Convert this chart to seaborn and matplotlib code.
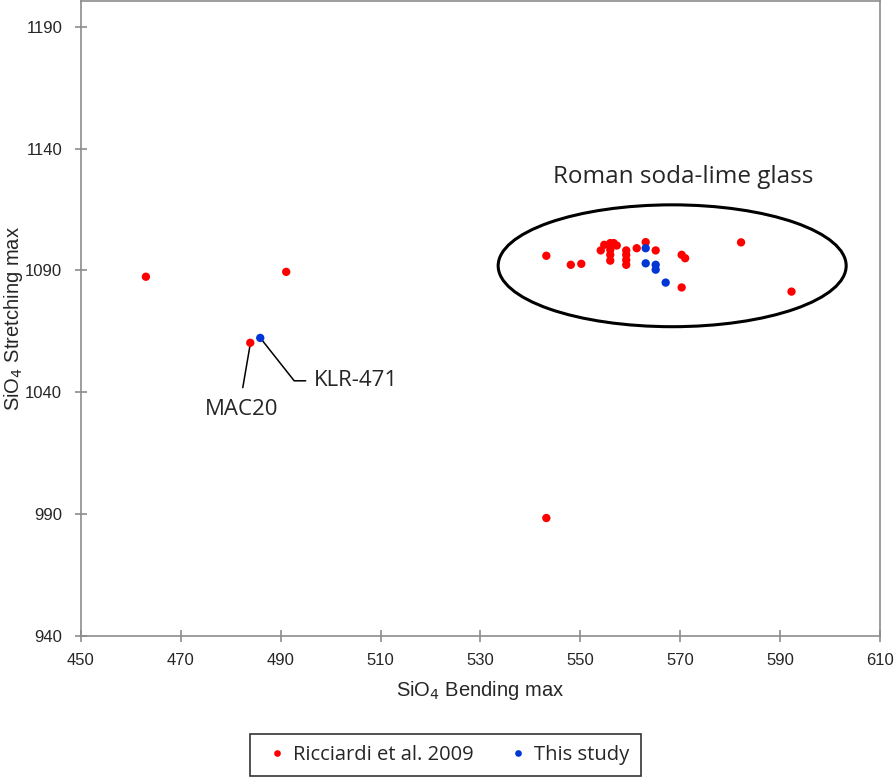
import pandas as pd
import matplotlib.pyplot as plt
import seaborn as sns
from matplotlib.patches import Ellipse

# data
ricc_x = [463.0, 491.1, 483.9, 543.2, 592.3, 582.2,
          543.2, 548.1, 550.2, 554.1, 554.8, 556.0, 556.7, 557.3,
          556.0, 556.0, 556.0, 559.2, 559.2, 559.2, 559.2,
          561.3, 563.1, 565.1, 570.3, 571.0, 570.3]
ricc_y = [1087.4, 1089.4, 1060.3, 988.4, 1081.3, 1101.5,
          1096.0, 1092.3, 1092.7, 1098.2, 1100.5, 1101.2, 1101.2, 1100.2,
          1098.5, 1096.4, 1094.0, 1098.2, 1096.4, 1094.3, 1092.3,
          1099.1, 1101.6, 1098.2, 1096.4, 1095.0, 1083.0]
study_x = [485.9, 563.1, 563.1, 565.1, 565.1, 567.1]
study_y = [1062.3, 1099.1, 1092.9, 1092.3, 1090.3, 1085.0]

series_names = ["Ricciardi et al. 2009", "This study"]
x_ticks = [450, 470, 490, 510, 530, 550, 570, 590, 610]
y_ticks = [940, 990, 1040, 1090, 1140, 1190]

df = pd.DataFrame({
    "bend": ricc_x + study_x,
    "stretch": ricc_y + study_y,
    "source": [series_names[0]] * len(ricc_x) + [series_names[1]] * len(study_x),
})

sns.set_style("white")
plt.rcParams["font.family"] = ["Liberation Sans", "DejaVu Sans"]

fig = plt.figure(figsize=(8.96, 7.79), dpi=100)
ax = fig.add_axes([0.0904, 0.1836, 0.8916, 0.815])

sns.scatterplot(data=df, x="bend", y="stretch", hue="source",
                palette={series_names[0]: "#ff0000", series_names[1]: "#0036d6"},
                s=36, edgecolor="none", ax=ax, legend=True, zorder=3)

ax.set_xlim(450, 610)
ax.set_ylim(940, 1200.5)
ax.set_xticks(x_ticks)
ax.set_yticks(y_ticks)
ax.tick_params(direction="inout", length=9, width=1.2, color="#8c8c8c",
               labelsize=12, left=True, bottom=True)
ax.tick_params(axis="x", pad=8)
ax.tick_params(axis="y", pad=9)
for sp in ax.spines.values():
    sp.set_color("#8c8c8c")
    sp.set_linewidth(1.2)

ax.set_xlabel(r"SiO$_4$ Bending max", fontsize=14.5, labelpad=8)
ax.set_ylabel(r"SiO$_4$ Stretching max", fontsize=14.5, va="center")
ax.yaxis.set_label_coords(-0.084, 0.5)

# ellipse around the roman glass cluster
ax.add_patch(Ellipse((568.4, 1091.9), 69.7, 50.0, fill=False,
                     edgecolor="black", linewidth=2.2, zorder=2))
ax.text(570.6, 1128.5, "Roman soda-lime glass", fontsize=17.5,
        family="Open Sans", ha="center", va="center")

# sample labels
ax.plot([483.9, 482.4], [1059.8, 1041.9], color="black", lw=1.1)
ax.text(482.2, 1032.8, "MAC20", fontsize=16, family="Open Sans",
        ha="center", va="center")
ax.plot([486.1, 492.7, 495.0], [1061.8, 1044.7, 1044.7], color="black", lw=1.1)
ax.text(496.6, 1044.7, "KLR-471", fontsize=16, family="Open Sans",
        ha="left", va="center")

handles, labels = ax.get_legend_handles_labels()
ax.get_legend().remove()
leg = fig.legend(handles, labels, loc="center", bbox_to_anchor=(0.497, 0.0308),
                 ncol=2, frameon=True, fancybox=False, edgecolor="black",
                 prop={"family": "Open Sans", "size": 14.5},
                 handletextpad=0.0, handlelength=1.6, columnspacing=1.4,
                 markerscale=0.8, borderpad=0.55)
leg.get_frame().set_linewidth(1.2)

fig.savefig("out.png", dpi=100)
